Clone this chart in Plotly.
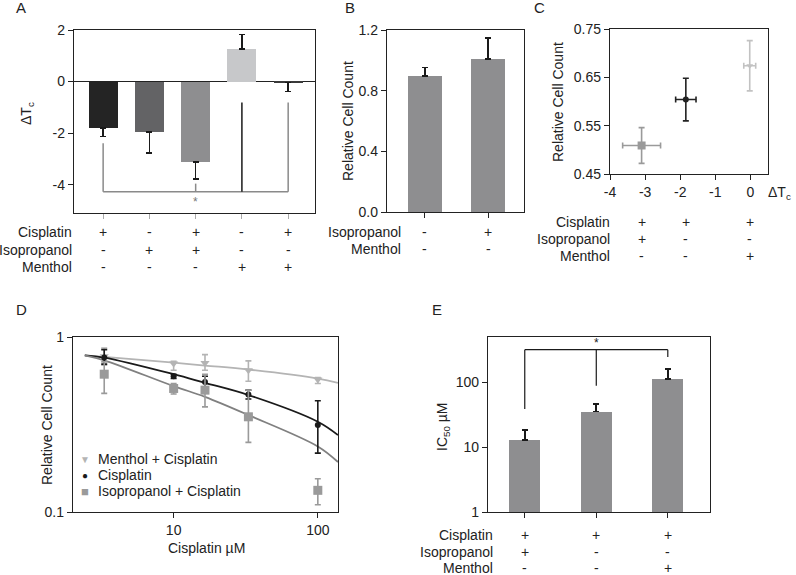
import math
import plotly.graph_objects as go

W, H = 796, 575

# ---- panel A : change of cell temperature ----
a_cats = [0, 1, 2, 3, 4]
a_dtc = [-1.81, -1.96, -3.12, 1.26, -0.03]
a_err = [0.32, 0.81, 0.66, 0.57, 0.36]
a_colors = ['#242424', '#636365', '#8e8e90', '#c7c8ca', '#3a3a3a']
a_cis = ['+', '-', '+', '-', '+']
a_iso = ['-', '+', '+', '-', '-']
a_men = ['-', '-', '-', '+', '+']
a_bracket = -4.28
a_bracket_from = [-2.39, None, -3.96, -0.81, -0.81]   # where each leg starts
a_bracket_col = ['#8a8a8a', None, '#8a8a8a', '#1a1a1a', '#8a8a8a']

# ---- panel B ----
b_cats = [0, 1]
b_count = [0.897, 1.009]
b_err = [0.055, 0.14]
b_iso = ['-', '+']
b_men = ['-', '-']

# ---- panel C ----
c_dtc = [-3.1, -1.84, -0.02]
c_dtc_err = [0.54, 0.29, 0.17]
c_count = [0.509, 0.604, 0.674]
c_count_err = [0.037, 0.044, 0.052]
c_sym = ['square', 'circle', 'triangle-down']
c_col = ['#9a9a9a', '#222222', '#c2c2c2']
c_size = [8, 6, 6]
c_cis = ['+', '+', '+']
c_iso = ['+', '-', '-']
c_men = ['-', '-', '+']

# ---- panel D : dose response ----
d_dose = [3.3, 10, 16.5, 33, 100]
d_men = [0.776, 0.705, 0.711, 0.646, 0.572]
d_men_hi = [0.866, 0.727, 0.793, 0.730, 0.587]
d_men_lo = [0.690, 0.646, 0.646, 0.559, 0.542]
d_cis = [0.763, 0.597, 0.554, 0.469, 0.314]
d_cis_hi = [0.847, 0.613, 0.597, 0.497, 0.432]
d_cis_lo = [0.700, 0.579, 0.515, 0.442, 0.217]
d_iso = [0.613, 0.508, 0.497, 0.350, 0.133]
d_iso_hi = [0.721, 0.542, 0.613, 0.497, 0.155]
d_iso_lo = [0.476, 0.472, 0.399, 0.250, 0.110]
d_fit_dose = [2.42, 3.3, 10, 16.5, 33, 100, 138]
d_fit_men = [0.786, 0.769, 0.714, 0.687, 0.652, 0.579, 0.547]
d_fit_cis = [0.786, 0.763, 0.613, 0.547, 0.466, 0.328, 0.275]
d_fit_iso = [0.786, 0.736, 0.524, 0.455, 0.358, 0.237, 0.193]

# ---- panel E : IC50 ----
e_cats = [0, 1, 2]
e_ic50 = [11.9, 34.5, 112.5]
e_ic50_hi = [17.5, 45.3, 160.6]
e_cis = ['+', '+', '+']
e_iso = ['+', '-', '-']
e_men = ['-', '-', '+']
e_bracket = 319
e_bracket_from = [38.8, 88.9, 246]
e_star = 405


def px(x):
    return x / W


def py(y):
    return 1 - y / H


TXT = '#222222'
fig = go.Figure()

# A bars
a_up = [e if v > 0 else 0 for v, e in zip(a_dtc, a_err)]
a_dn = [e if v <= 0 else 0 for v, e in zip(a_dtc, a_err)]
fig.add_trace(go.Bar(x=a_cats, y=a_dtc, width=0.63, marker=dict(color=a_colors, line=dict(width=0)),
                     error_y=dict(type='data', symmetric=False, array=a_up, arrayminus=a_dn,
                                  color='#1a1a1a', thickness=1.6, width=3),
                     xaxis='x', yaxis='y'))
fig.add_trace(go.Scatter(x=[a_cats[0], a_cats[-1]], y=[a_bracket, a_bracket], mode='lines',
                         line=dict(color='#8a8a8a', width=1.5), xaxis='x', yaxis='y'))
for c, f, col in zip(a_cats, a_bracket_from, a_bracket_col):
    if f is None:
        continue
    fig.add_trace(go.Scatter(x=[c, c], y=[f, a_bracket], mode='lines',
                             line=dict(color=col, width=1.5), xaxis='x', yaxis='y'))

# B bars
fig.add_trace(go.Bar(x=b_cats, y=b_count, width=0.54, marker=dict(color='#8e8e90', line=dict(width=0)),
                     error_y=dict(type='data', symmetric=False, array=b_err, arrayminus=[0, 0],
                                  color='#1a1a1a', thickness=1.6, width=3),
                     xaxis='x2', yaxis='y2'))

# C scatter
for i in range(3):
    fig.add_trace(go.Scatter(x=[c_dtc[i]], y=[c_count[i]], mode='markers',
                             marker=dict(symbol=c_sym[i], color=c_col[i], size=c_size[i]),
                             error_x=dict(type='data', array=[c_dtc_err[i]], color=c_col[i], thickness=1.6, width=3),
                             error_y=dict(type='data', array=[c_count_err[i]], color=c_col[i], thickness=1.6, width=3),
                             xaxis='x3', yaxis='y3'))

# D curves and points
for fit, col in [(d_fit_men, '#b4b4b4'), (d_fit_cis, '#1a1a1a'), (d_fit_iso, '#808080')]:
    fig.add_trace(go.Scatter(x=d_fit_dose, y=fit, mode='lines', line=dict(color=col, width=1.8, shape='spline'),
                             xaxis='x4', yaxis='y4'))
for val, hi, lo, sym, col, sz in [
        (d_men, d_men_hi, d_men_lo, 'triangle-down', '#b4b4b4', 8),
        (d_cis, d_cis_hi, d_cis_lo, 'circle', '#1a1a1a', 6),
        (d_iso, d_iso_hi, d_iso_lo, 'square', '#9a9a9a', 9)]:
    fig.add_trace(go.Scatter(x=d_dose, y=val, mode='markers',
                             marker=dict(symbol=sym, color=col, size=sz),
                             error_y=dict(type='data', symmetric=False,
                                          array=[h - v for h, v in zip(hi, val)],
                                          arrayminus=[v - l for v, l in zip(val, lo)],
                                          color=col, thickness=1.6, width=3),
                             xaxis='x4', yaxis='y4'))

# E bars
fig.add_trace(go.Bar(x=e_cats, y=e_ic50, base=1, width=0.435, marker=dict(color='#8e8e90', line=dict(width=0)),
                     error_y=dict(type='data', symmetric=False,
                                  array=[h - v for h, v in zip(e_ic50_hi, e_ic50)], arrayminus=[0, 0, 0],
                                  color='#1a1a1a', thickness=1.6, width=3),
                     xaxis='x5', yaxis='y5'))
fig.add_trace(go.Scatter(x=[e_cats[0], e_cats[-1]], y=[e_bracket, e_bracket], mode='lines',
                         line=dict(color='#1a1a1a', width=1.2), xaxis='x5', yaxis='y5'))
for c, f in zip(e_cats, e_bracket_from):
    fig.add_trace(go.Scatter(x=[c, c], y=[f, e_bracket], mode='lines',
                             line=dict(color='#1a1a1a', width=1.2), xaxis='x5', yaxis='y5'))

ax = dict(showline=True, mirror=True, linecolor='#222', linewidth=1.4, ticks='outside', ticklen=5,
          tickwidth=1.2, tickcolor='#222', showgrid=False, zeroline=False, automargin=False,
          tickfont=dict(size=14, color=TXT))

ann = []


def text(x, y, s, size=14, xanchor='center', angle=0, color=TXT, xref='paper', yref='paper'):
    ann.append(dict(x=x, y=y, xref=xref, yref=yref, text=s, showarrow=False, xanchor=xanchor,
                    yanchor='middle', textangle=angle, font=dict(size=size, color=color)))


def rows(names, marks, xs, xref, label_right, ys):
    for name, mk, y in zip(names, marks, ys):
        text(px(label_right), py(y), name, xanchor='right')
        for x, m in zip(xs, mk):
            text(x, py(y), m, xref=xref)


names3 = ['Cisplatin', 'Isopropanol', 'Menthol']

# panel letters
for s, x, y in [('A', 21, 8), ('B', 350, 8), ('C', 539, 8), ('D', 21, 309), ('E', 437, 309)]:
    text(px(x), py(y), s, size=15)

# axis titles
text(px(27), py(114), 'ΔT<sub>c</sub>', angle=-90)
text(px(348), py(121), 'Relative Cell Count', angle=-90)
text(px(558), py(102), 'Relative Cell Count', angle=-90)
text(px(779), py(193), 'ΔT<sub>c</sub>')
text(px(47), py(425), 'Relative Cell Count', angle=-90)
text(px(206), py(548), 'Cisplatin µM')
text(px(443), py(427), 'IC<sub>50</sub> µM', angle=-90)

# treatment tables
rows(names3, [a_cis, a_iso, a_men], a_cats, 'x', 74, [232, 250, 267])
rows(names3[1:], [b_iso, b_men], b_cats, 'x2', 403, [232, 249])
rows(names3, [c_cis, c_iso, c_men], c_dtc, 'x3', 612, [222, 239, 256])
rows(names3, [e_cis, e_iso, e_men], e_cats, 'x5', 495, [535, 552, 568])

# significance marks
text(2, -4.67, '*', size=12, color='#777', xref='x', yref='y')
text(1, math.log10(e_star), '*', size=12, xref='x5', yref='y5')

# legend of panel D
for y, sym, col, sz, lab in [(459, '▼', '#b4b4b4', 10, 'Menthol + Cisplatin'),
                             (475, '●', '#1a1a1a', 10, 'Cisplatin'),
                             (491, '■', '#9a9a9a', 13, 'Isopropanol + Cisplatin')]:
    text(px(85), py(y), sym, size=sz, color=col)
    text(px(96), py(y), lab, xanchor='left')

fig.update_layout(
    width=W, height=H, margin=dict(l=0, r=0, t=0, b=0, autoexpand=False),
    paper_bgcolor='white', plot_bgcolor='white', showlegend=False,
    font=dict(family='Liberation Sans, Arial, sans-serif', size=14, color=TXT),
    bargap=0,
    xaxis=dict(ax, domain=[px(74), px(315)], range=[-0.63, 4.58], tickvals=a_cats,
               showticklabels=False, tickcolor='#aaa', anchor='y'),
    yaxis=dict(ax, domain=[py(213), py(30)], range=[-5.1, 2], tickvals=[2, 0, -2, -4],
               ticktext=['2', '0', '-2', '-4'], zeroline=True, zerolinecolor='#222',
               zerolinewidth=1.4, anchor='x'),
    xaxis2=dict(ax, domain=[px(387), px(524)], range=[-0.6, 1.57], tickvals=b_cats,
                showticklabels=False, anchor='y2'),
    yaxis2=dict(ax, domain=[py(212), py(30)], range=[0, 1.2], tickvals=[0, 0.4, 0.8, 1.2],
                ticktext=['0.0', '0.4', '0.8', '1.2'], anchor='x2'),
    xaxis3=dict(ax, domain=[px(610), px(768)], range=[-4, 0.5], tickvals=[-4, -3, -2, -1, 0],
                ticktext=['-4', '-3', '-2', '-1', '0'], anchor='y3'),
    yaxis3=dict(ax, domain=[py(174), py(29)], range=[0.45, 0.75], tickvals=[0.45, 0.55, 0.65, 0.75],
                ticktext=['0.45', '0.55', '0.65', '0.75'], anchor='x3'),
    xaxis4=dict(ax, type='log', domain=[px(73), px(338)], range=[0.302, 2.14], tickvals=[10, 100],
                ticktext=['10', '100'], anchor='y4'),
    yaxis4=dict(ax, type='log', domain=[py(512), py(337)], range=[-1, 0], tickvals=[0.1, 1],
                ticktext=['0.1', '1'], anchor='x4'),
    xaxis5=dict(ax, domain=[px(488), px(710)], range=[-0.514, 2.59], tickvals=e_cats,
                showticklabels=False, anchor='y5'),
    yaxis5=dict(ax, type='log', domain=[py(512), py(337)], range=[0, 2.70], tickvals=[1, 10, 100],
                ticktext=['1', '10', '100'], anchor='x5'),
    annotations=ann,
)

# the page's default body margin would push the figure off the window
fig.write_html("out.html", config={'displayModeBar': False},
               post_script="document.body.style.margin='0px';")
